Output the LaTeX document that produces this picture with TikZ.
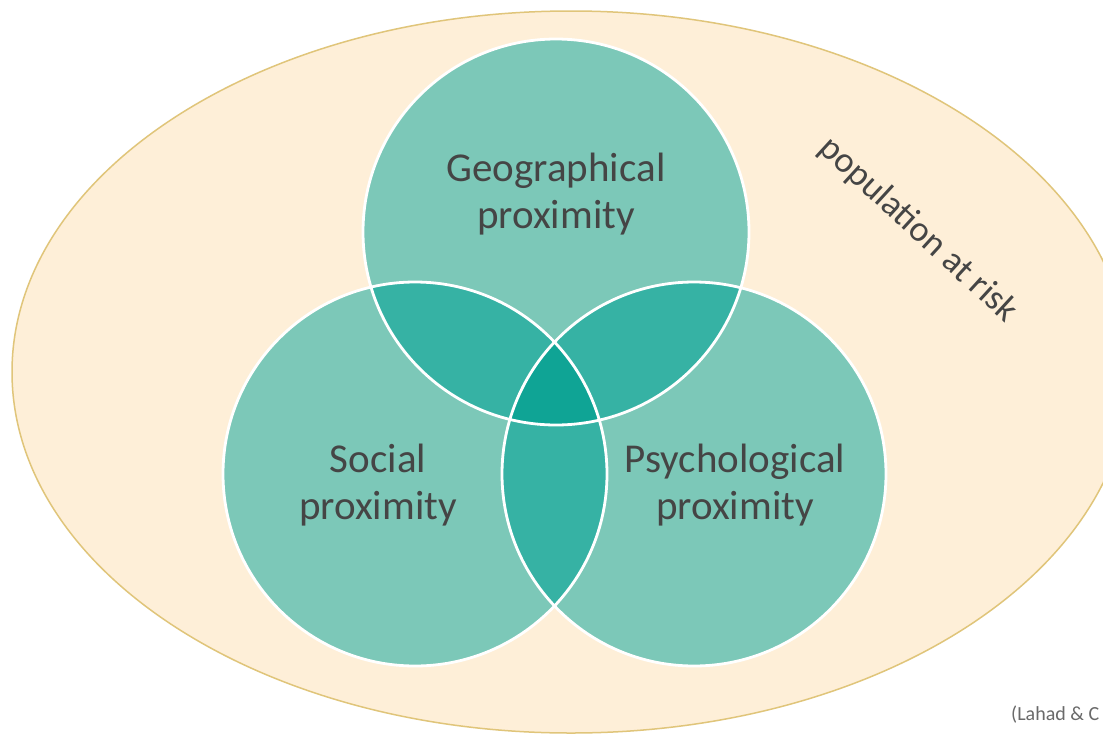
\documentclass[tikz,border=0pt]{standalone}
\usepackage{fontspec}
\setmainfont{Carlito}
\usetikzlibrary{shapes.geometric}
\definecolor{cream}{HTML}{FEEFD8}
\definecolor{gold}{HTML}{E0C57A}
\definecolor{tealA}{HTML}{7CC8B8}
\definecolor{tealB}{HTML}{36B2A4}
\definecolor{tealC}{HTML}{0FA495}
\definecolor{txt}{HTML}{454545}
\tikzset{
  lbl/.style={text=txt, font=\fontsize{41}{47}\selectfont, align=center},
  ring/.style={draw=white, line width=2.8pt},
}
\begin{document}
\begin{tikzpicture}[x=1pt,y=-1pt]
\useasboundingbox (0,0) rectangle (1103,737);
\clip (0,0) rectangle (1103,737);
\fill[white] (0,0) rectangle (1103,737);
% population ellipse
\node[draw=gold, fill=cream, line width=1.5pt, ellipse, minimum width=1118pt, minimum height=722pt, inner sep=0pt] (pop) at (571,372) {};
% circles
\coordinate (g) at (556,232);
\coordinate (s) at (415,474);
\coordinate (p) at (694,474);
\fill[tealA] (g) circle (193);
\fill[tealA] (s) circle (192);
\fill[tealA] (p) circle (192);
\begin{scope}
  \clip (g) circle (193);
  \fill[tealB] (s) circle (192);
  \fill[tealB] (p) circle (192);
\end{scope}
\begin{scope}
  \clip (s) circle (192);
  \fill[tealB] (p) circle (192);
  \clip (p) circle (192);
  \fill[tealC] (g) circle (193);
\end{scope}
\draw[ring] (g) circle (193);
\draw[ring] (s) circle (192);
\draw[ring] (p) circle (192);
% labels
\node[lbl] (geo) at (556,194) {Geographical\\proximity};
\node[lbl] (soc) at (378,485) {Social\\proximity};
\node[lbl] (psy) at (735,485) {Psychological\\proximity};
\node[text=txt, font=\fontsize{36}{40}\selectfont, rotate=-42.5] (risk) at (918,230) {population at risk};
\node[text=txt!80, font=\fontsize{20}{24}\selectfont, anchor=west, inner sep=0pt] (ref) at (1011,715) {(Lahad \& C};
\end{tikzpicture}
\end{document}
